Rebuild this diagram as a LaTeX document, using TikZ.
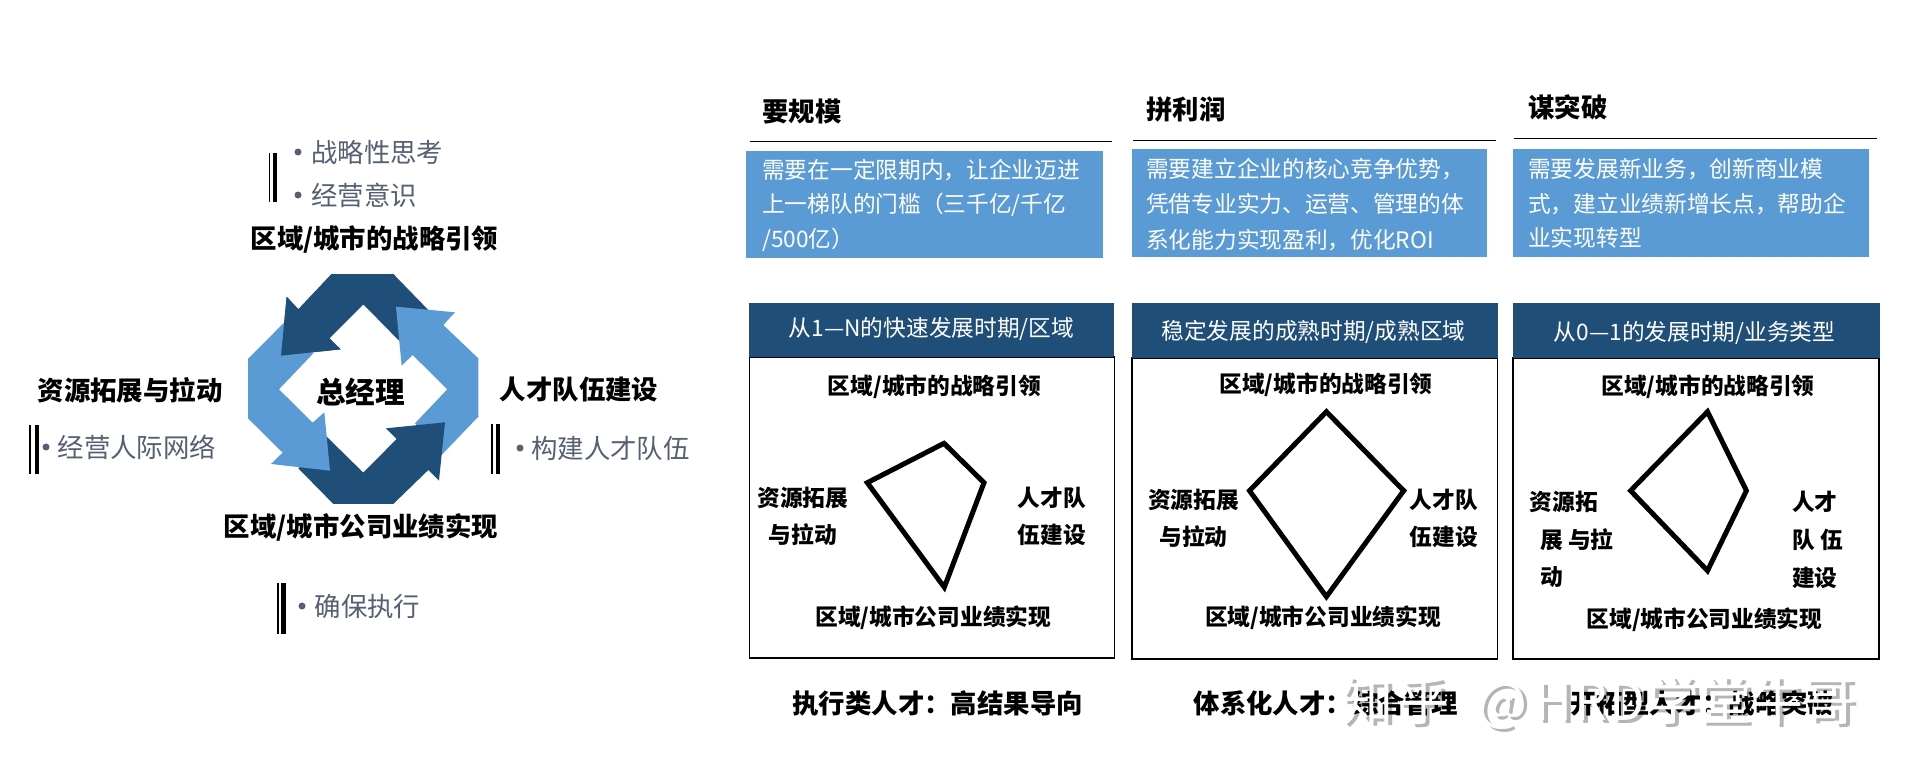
\documentclass[tikz,border=0pt]{standalone}
\usepackage{fontspec}
\setmainfont{Noto Sans CJK SC}
\definecolor{lblue}{HTML}{5B9BD5}
\definecolor{dblue}{HTML}{1F4E79}
\definecolor{foldl}{HTML}{5796CF}
\definecolor{foldd}{HTML}{22507C}
\definecolor{greytx}{HTML}{556074}
\tikzset{
  big/.style={font=\fontsize{26.4}{30}\selectfont\bfseries,text=black,inner sep=0pt},
  mid/.style={font=\fontsize{22.7}{26}\selectfont\bfseries,text=black,inner sep=0pt},
  grey/.style={font=\fontsize{26.4}{30}\selectfont,text=greytx,inner sep=0pt,anchor=west},
  dot/.style={circle,fill=greytx,minimum size=7pt,inner sep=0pt},
  head/.style={font=\fontsize{22.7}{26}\selectfont,text=white,inner sep=0pt},
  body/.style={font=\fontsize{22.7}{26}\selectfont,text=white,inner sep=0pt,anchor=west},
  sep/.style={black,line width=1.5pt},
  bluebox/.style={fill=lblue,draw=none},
  darkbox/.style={fill=dblue,draw=none},
  frame/.style={draw=black,line width=1.2pt,fill=white},
  kite/.style={draw=black,line width=5pt,line join=miter},
  thinbar/.style={black,line width=1.6pt},
  thickbar/.style={black,line width=4.2pt},
  wmshadow/.style={font=\fontsize{52}{56}\selectfont,text=black,text opacity=.29,inner sep=0pt,anchor=west},
  wmglyph/.style={font=\fontsize{52}{56}\selectfont,text=white,inner sep=0pt,anchor=west},
}
\newcommand{\wmtext}{知\kern4pt 乎\kern28pt @\kern8pt H\kern2pt R\kern2pt D\kern2pt 学堂牛哥}
\newcommand{\qcomma}{\char"FF0C\relax}
\newcommand{\qcolon}{\char"FF1A\relax}
\newcommand{\qlp}{\char"FF08\relax}
\newcommand{\qrp}{\char"FF09\relax}
\begin{document}
\begin{tikzpicture}[x=1pt,y=-1pt]
\useasboundingbox[fill=white] (0,0) rectangle (1914,784);
% ---- cycle of four arrows
\begin{scope}[shift={(230,260)},x=0.3333pt,y=-0.3333pt]
  \fill[dblue] (595,150)--(490,42)--(305,42)--(205,148)--(170,110)--(153,287)--(332,268)--(298,235)--(400,133)--(510,245)--cycle;
  \draw[foldd,line width=.6pt] (490,42)--(400,133);
  \fill[lblue] (498,140)--(675,157)--(640,195)--(745,295)--(745,470)--(635,585)--(555,490)--(652,388)--(548,285)--(515,317)--cycle;
  \draw[foldl,line width=.6pt] (745,470)--(652,388);
  \fill[dblue] (645,487)--(627,662)--(595,630)--(490,732)--(310,732)--(205,625)--(290,530)--(400,638)--(500,537)--(468,505)--cycle;
  \draw[foldd,line width=.6pt] (310,732)--(400,638);
  \fill[lblue] (300,632)--(123,612)--(158,578)--(54,475)--(54,297)--(160,190)--(250,280)--(147,388)--(248,488)--(283,457)--cycle;
  \draw[foldl,line width=.6pt] (54,297)--(147,388);
  \fill[dblue] (400,42)--(305,42)--(205,148)--(170,110)--(153,287)--(332,268)--(298,235)--(400,133)--cycle;
\end{scope}
\node[big,font=\fontsize{29.6}{32}\selectfont\bfseries] (gm) at (360.5,392) {总经理};
% ---- left column labels
\node[big] (lt) at (374.5,239.6) {区域/城市的战略引领};
\node[big] (ll) at (130,390) {资源拓展与拉动};
\node[big] (lr) at (579,390) {人才队伍建设};
\node[big] (lb) at (361,527) {区域/城市公司业绩实现};
\draw[thinbar] (269.6,153)--(269.6,202);
\draw[thickbar] (275,153)--(275,202);
\node[dot] (d1) at (298,152) {};
\node[grey] (g1) at (311,152) {战略性思考};
\node[dot] (d2) at (298,195) {};
\node[grey] (g2) at (311,195) {经营意识};
\draw[thinbar] (30.2,425)--(30.2,474);
\draw[thickbar] (36.7,425)--(36.7,474);
\node[dot] (d3) at (46,447) {};
\node[grey] (g3) at (57.4,447) {经营人际网络};
\draw[thinbar] (492,424)--(492,474);
\draw[thickbar] (497.8,424)--(497.8,474);
\node[dot] (d4) at (520,448) {};
\node[grey] (g4) at (531,448) {构建人才队伍};
\draw[thinbar] (278,583)--(278,634);
\draw[thickbar] (283.4,583)--(283.4,634);
\node[dot] (d5) at (302,606) {};
\node[grey] (g5) at (314.5,606) {确保执行};
% ---- column titles
\node[big,anchor=west] (t1) at (762,111.5) {要规模};
\node[big,anchor=west] (t2) at (1146,109.5) {拼利润};
\node[big,anchor=west] (t3) at (1528,107.6) {谋突破};
\draw[sep] (749.6,141.3)--(1112,141.3);
\draw[sep] (1133,140.3)--(1495.5,140.3);
\draw[sep] (1514,138.5)--(1877,138.5);
% ---- blue boxes
\fill[bluebox] (746,151) rectangle (1102.6,257.7);
\fill[bluebox] (1132,149) rectangle (1487,256.7);
\fill[bluebox] (1512.7,149) rectangle (1869,256.7);
\node[body] (a1) at (762,170) {需要在一定限期内\qcomma 让企业迈进};
\node[body] (a2) at (762,205) {上一梯队的门槛\qlp 三千亿/千亿};
\node[body] (a3) at (762,240) {/500亿\qrp};
\node[body] (b1) at (1146,169) {需要建立企业的核心竞争优势\qcomma};
\node[body] (b2) at (1146,204) {凭借专业实力、运营、管理的体};
\node[body] (b3) at (1146,240) {系化能力实现盈利\qcomma 优化ROI};
\node[body] (c1) at (1528,169) {需要发展新业务\qcomma 创新商业模};
\node[body] (c2) at (1528,204) {式\qcomma 建立业绩新增长点\qcomma 帮助企};
\node[body] (c3) at (1528,238) {业实现转型};
% ---- dark headers and frames
\draw[frame] (749.3,357) rectangle (1114.3,658);
\draw[frame] (1132,358) rectangle (1497.7,659);
\draw[frame] (1513,358) rectangle (1879,659);
\fill[darkbox] (749,303) rectangle (1114,357.3);
\fill[darkbox] (1132,303) rectangle (1498,358);
\fill[darkbox] (1513,303) rectangle (1880,358);
\node[head] (h1) at (931.5,329) {从1—N的快速发展时期/区域};
\node[head] (h2) at (1313.5,332) {稳定发展的成熟时期/成熟区域};
\node[head] (h3) at (1694.5,332.5) {从0—1的发展时期/业务类型};
% ---- panel 1
\node[mid] (p1t) at (934.5,387) {区域/城市的战略引领};
\node[mid] (p1b) at (933.3,618) {区域/城市公司业绩实现};
\node[mid] (p1l1) at (802.7,497.5) {资源拓展};
\node[mid] (p1l2) at (802.7,535) {与拉动};
\node[mid] (p1r1) at (1051.7,497.5) {人才队};
\node[mid] (p1r2) at (1051.7,535) {伍建设};
\coordinate (k1a) at (944,443.3); \coordinate (k1b) at (984,482.7);
\coordinate (k1c) at (944.3,587.3); \coordinate (k1d) at (867.3,482.7);
\draw[kite] (k1a)--(k1b)--(k1c)--(k1d)--cycle;
\node[big] (p1f) at (937.7,703) {执行类人才\qcolon 高结果导向};
% ---- panel 2
\node[mid] (p2t) at (1326,385) {区域/城市的战略引领};
\node[mid] (p2b) at (1323,618) {区域/城市公司业绩实现};
\node[mid] (p2l1) at (1193.5,499.5) {资源拓展};
\node[mid] (p2l2) at (1193.5,537) {与拉动};
\node[mid] (p2r1) at (1444,499.5) {人才队};
\node[mid] (p2r2) at (1444,537) {伍建设};
\coordinate (k2a) at (1326.4,411.7); \coordinate (k2b) at (1403.7,490.7);
\coordinate (k2c) at (1326.4,596.7); \coordinate (k2d) at (1249.5,490.7);
\draw[kite] (k2a)--(k2b)--(k2c)--(k2d)--cycle;
\node[big] (p2f) at (1325.7,703) {体系化人才\qcolon 综合管理};
% ---- panel 3
\node[mid] (p3t) at (1708,386.7) {区域/城市的战略引领};
\node[mid] (p3b) at (1704.5,620) {区域/城市公司业绩实现};
\node[mid,anchor=west] (p3l1) at (1529.4,501.5) {资源拓};
\node[mid,anchor=west] (p3l2) at (1540,539.5) {展 与拉};
\node[mid,anchor=west] (p3l3) at (1540,577.5) {动};
\node[mid,anchor=west] (p3r1) at (1792,501.5) {人才};
\node[mid,anchor=west] (p3r2) at (1792,539.5) {队 伍};
\node[mid,anchor=west] (p3r3) at (1792,577.5) {建设};
\coordinate (k3a) at (1707.5,411.7); \coordinate (k3b) at (1746.4,490.7);
\coordinate (k3c) at (1707.5,570.7); \coordinate (k3d) at (1630.6,490.7);
\draw[kite] (k3a)--(k3b)--(k3c)--(k3d)--cycle;
\node[big] (p3f) at (1702.3,703) {开拓型人才\qcolon 战略突破};
% ---- watermark: white letters with a grey shadow
\node[wmshadow] (wm0) at (1345,706) {\wmtext};
\node[wmglyph] (wm1) at (1341,703) {\wmtext};
\end{tikzpicture}
\end{document}
